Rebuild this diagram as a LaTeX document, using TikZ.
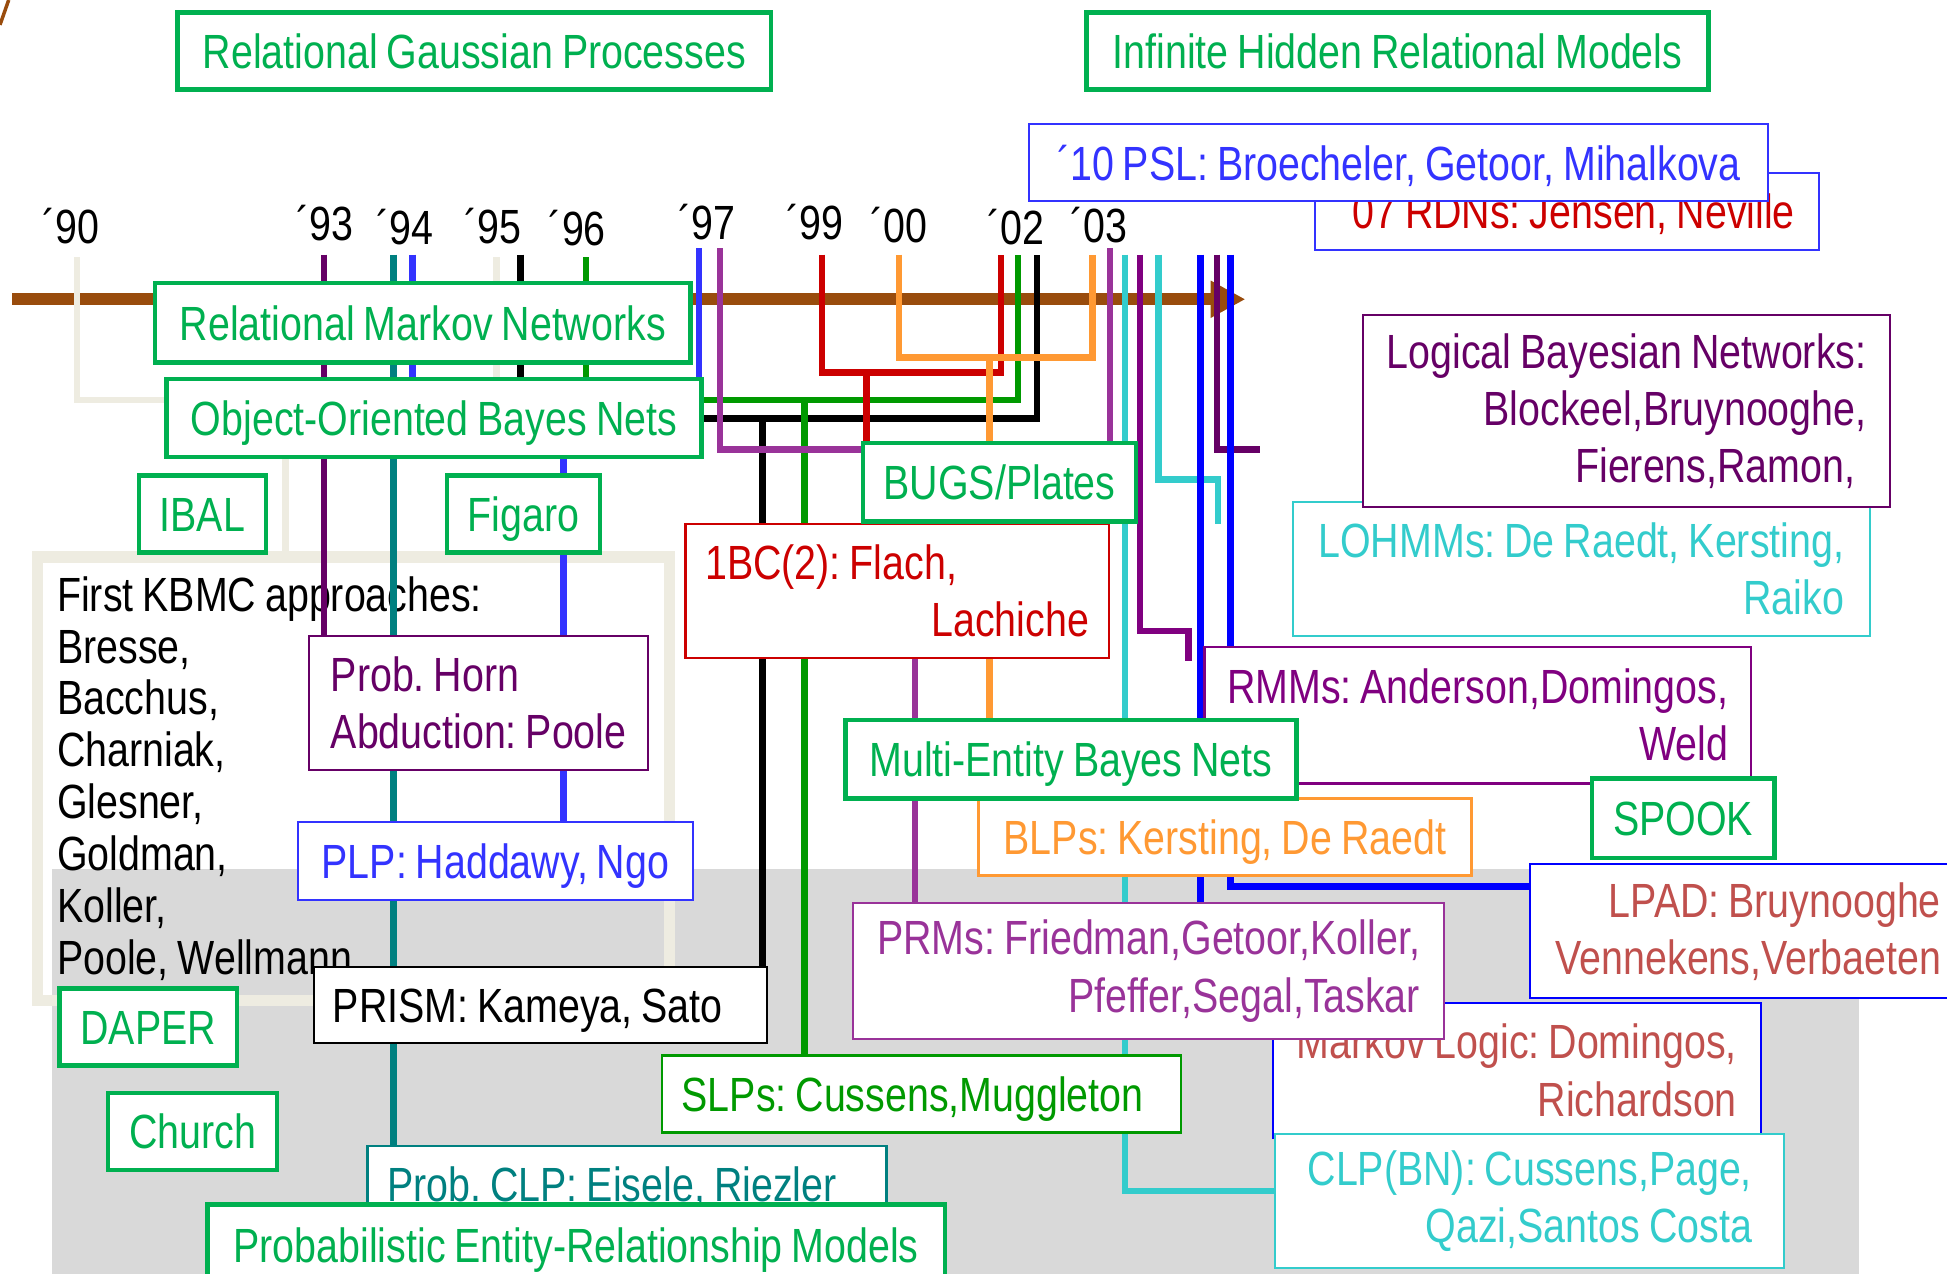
\documentclass[tikz,border=0pt]{standalone}
\usepackage{fontspec}
\setmainfont[FakeStretch=0.82,WordSpace=0.82]{Liberation Sans}
\usetikzlibrary{arrows.meta}
\pgfdeclarelayer{bg}
\pgfdeclarelayer{wires}
\pgfsetlayers{bg,wires,main}
\definecolor{grn}{RGB}{0,176,80}
\definecolor{sgrn}{RGB}{0,153,0}
\definecolor{dpur}{RGB}{102,0,102}
\definecolor{mpur}{RGB}{153,51,153}
\definecolor{vpur}{RGB}{128,0,128}
\definecolor{teal2}{RGB}{0,128,128}
\definecolor{lblu}{RGB}{51,51,255}
\definecolor{blu}{RGB}{0,0,255}
\definecolor{red2}{RGB}{204,0,0}
\definecolor{orn}{RGB}{255,153,51}
\definecolor{cyn}{RGB}{51,204,204}
\definecolor{brd}{RGB}{192,80,77}
\definecolor{beig}{RGB}{238,236,225}
\definecolor{brn}{RGB}{153,76,13}
\definecolor{gry}{RGB}{217,217,217}
\frenchspacing

\begin{document}
\begin{tikzpicture}[x=0.1mm,y=-0.1mm,line join=miter,
  every node/.style={font=\fontsize{11}{13.1}\selectfont,inner sep=0pt},
  one/.style={text height=2.9mm,text depth=0.1mm},
  gbox/.style={one,draw=grn,line width=1pt,fill=white,text=grn},
  tbox/.style={draw=#1,line width=0.5pt,fill=white,text=#1},
  wire/.style={line width=1.5pt}]
  \useasboundingbox (0,0) rectangle (1568,1026);
  % Zeitachse mit den Jahren und den Ansaetzen
  \begin{pgfonlayer}{bg}
    \fill[gry] (42,700) rectangle (1497,1026);
    \draw[brn,line width=0.8pt] (0,20) -- (7,0);
    \coordinate (tl0) at (10,241);
    \coordinate (tl1) at (1003,241);
    \draw[brn,line width=1mm,-{Triangle[length=2.8mm,width=2.8mm]}] (tl0) -- (tl1);
    \node[draw=beig,line width=0.9mm,minimum width=50.9mm,minimum height=35.7mm,
      text width=47.7mm,align=flush left,font=\fontsize{11}{11.9}\selectfont] (kbmc) at (284.5,627)
      {First KBMC approaches:\\Bresse,\\Bacchus,\\Charniak,\\Glesner,\\Goldman,\\Koller,\\Poole, Wellmann};
  \end{pgfonlayer}

  \node (y90) at (57,182) {´90};
  \node (y93) at (262,180) {´93};
  \node (y94) at (326,183) {´94};
  \node (y95) at (397,182) {´95};
  \node (y96) at (465,184) {´96};
  \node (y97) at (569,179) {´97};
  \node (y99) at (656,179) {´99};
  \node (y00) at (724,181) {´00};
  \node (y02) at (818,183) {´02};
  \node (y03) at (885,181) {´03};

  \node[gbox,minimum width=47.8mm,minimum height=6.2mm] (rgp) at (382,41) {Relational Gaussian Processes};
  \node[gbox,minimum width=50.1mm,minimum height=6.2mm] (ihrm) at (1125.5,41) {Infinite Hidden Relational Models};
  \node[one,tbox=lblu,text=red2,minimum width=40.6mm,minimum height=6.2mm] (rdn) at (1262,170) {´07 RDNs: Jensen, Neville};
  \node[one,tbox=lblu,minimum width=59.5mm,minimum height=6.2mm] (psl) at (1126.5,131) {´10 PSL: Broecheler, Getoor, Mihalkova};
  \node[gbox,minimum width=43.1mm,minimum height=6.4mm] (rmn) at (340.5,260) {Relational Markov Networks};
  \node[gbox,minimum width=43.1mm,minimum height=6.3mm] (oobn) at (349.5,336.5) {Object-Oriented Bayes Nets};
  \node[gbox,minimum width=10.2mm,minimum height=6.2mm] (ibal) at (163,414) {IBAL};
  \node[gbox,minimum width=12.3mm,minimum height=6.2mm] (figaro) at (421.5,414) {Figaro};
  \node[tbox=dpur,minimum width=27.3mm,minimum height=10.8mm,align=left] (horn) at (385.5,566) {Prob. Horn\\Abduction: Poole};
  \node[one,tbox=lblu,minimum width=31.8mm,minimum height=6.3mm] (plp) at (399,693.5) {PLP: Haddawy, Ngo};
  \node[one,tbox=black,minimum width=36.5mm,minimum height=6.1mm,text width=33.5mm,align=flush left] (prism) at (435.5,809.5) {PRISM: Kameya, Sato};
  \node[gbox,minimum width=14.3mm,minimum height=6.2mm] (daper) at (119.5,827) {DAPER};
  \node[gbox,minimum width=13.6mm,minimum height=6.2mm] (church) at (155,911) {Church};
  \node[one,tbox=teal2,minimum width=41.8mm,minimum height=6.2mm,text width=38.6mm,align=flush left] (probclp) at (505,954) {Prob. CLP: Eisele, Riezler};
  \node[gbox,minimum width=59.4mm,minimum height=6.5mm] (perm) at (464,1002.5) {Probabilistic Entity-Relationship Models};
  \node[tbox=red2,minimum width=34.1mm,minimum height=10.8mm,text width=30.9mm,align=flush left] (onebc) at (722.5,476) {1BC(2): Flach,\\\hfill Lachiche};
  \node[gbox,minimum width=22mm,minimum height=6.3mm] (bugs) at (805,388.5) {BUGS/Plates};
  \node[one,tbox=orn,minimum width=39.7mm,minimum height=6.2mm] (blps) at (986.5,674) {BLPs: Kersting, De Raedt};
  \node[tbox=vpur,minimum width=44mm,minimum height=11mm,align=right] (rmms) at (1190,576) {RMMs: Anderson,Domingos,\\Weld};
  \node[tbox=cyn,minimum width=46.5mm,minimum height=10.8mm,align=right] (lohmms) at (1273.5,458) {LOHMMs: De Raedt, Kersting,\\Raiko};
  \node[tbox=dpur,minimum width=42.4mm,minimum height=15.5mm,align=right] (lbn) at (1310,331) {Logical Bayesian Networks:\\Blockeel,Bruynooghe,\\Fierens,Ramon,\hspace*{0.9mm}};
  \node[gbox,minimum width=36.3mm,minimum height=6.3mm] (mebn) at (862.5,611.5) {Multi-Entity Bayes Nets};
  \node[gbox,minimum width=14.7mm,minimum height=6.4mm] (spook) at (1355.5,659) {SPOOK};
  \node[tbox=blu,text=brd,minimum width=39.3mm,minimum height=10.8mm,align=right] (ml) at (1221.5,862) {Markov Logic: Domingos,\\Richardson};
  \node[tbox=mpur,minimum width=47.6mm,minimum height=10.9mm,align=right] (prms) at (925,782) {PRMs: Friedman,Getoor,Koller,\\Pfeffer,Segal,Taskar};
  \node[tbox=cyn,minimum width=41mm,minimum height=10.8mm,align=right] (clpbn) at (1232,967) {CLP(BN): Cussens,Page,\\Qazi,Santos Costa};
  \node[one,tbox=sgrn,minimum width=41.8mm,minimum height=6.2mm,text width=38.6mm,align=flush left] (slps) at (742,881) {SLPs: Cussens,Muggleton};
  \node[tbox=blu,text=brd,minimum width=35.2mm,minimum height=10.8mm,align=right] (lpad) at (1408,750) {LPAD: Bruynooghe\\Vennekens,Verbaeten};

  \coordinate (t90) at (62,207);
  \coordinate (t93) at (261,205);
  \coordinate (t94a) at (317,205);
  \coordinate (t94b) at (332,205);
  \coordinate (t95a) at (400,207);
  \coordinate (t95b) at (419,205);
  \coordinate (t96) at (472,207);
  \coordinate (t97a) at (563,200);
  \coordinate (t97b) at (580,200);
  \coordinate (t99) at (662,205);
  \coordinate (t00) at (724,205);
  \coordinate (t02a) at (806,205);
  \coordinate (t02b) at (820,205);
  \coordinate (t02c) at (835,205);
  \coordinate (t03a) at (880,205);
  \coordinate (t03b) at (894,200);
  \coordinate (t03c) at (906,205);
  \coordinate (t03d) at (918,205);
  \coordinate (t03e) at (933,205);
  \coordinate (t03f) at (967,205);
  \coordinate (t03g) at (980,205);
  \coordinate (t03h) at (991,205);
  \coordinate (b94) at (454,330);
  \coordinate (b95) at (230,350);
  \coordinate (b95b) at (614,337);
  \coordinate (b96) at (648,322);
  \coordinate (b97) at (737,362);
  \coordinate (b99) at (698,300);
  \coordinate (b00) at (797,288);
  \coordinate (b03c) at (906,959);
  \coordinate (b03d) at (957,508);
  \coordinate (e03d) at (957,532);
  \coordinate (b03e) at (981,386);
  \coordinate (e03e) at (981,422);
  \coordinate (e03g) at (1015,362);
  \coordinate (b03h) at (991,714);

  \begin{pgfonlayer}{wires}
    \draw[wire,beig] (t90) |- ([yshift=1.45mm]oobn.west);
    \draw[wire,dpur] (t93) -- (t93 |- horn.north);
    \draw[wire,teal2] (t94a) -- (t94a |- probclp.north);
    \draw[wire,lblu] (t94b) |- (b94) -- (b94 |- plp.north);
    \draw[wire,beig] (t95a) |- (b95) -- (b95 |- kbmc.north);
    \draw[wire] (t95b) |- (b95b) -| (t02c);
    \draw[wire] (b95b) -- (b95b |- prism.north);
    \draw[wire,sgrn] (t96) |- (b96) -| (t02b);
    \draw[wire,sgrn] (b96) -- (b96 |- slps.north);
    \draw[wire,lblu] (t97a) -- (t97a |- oobn.north);
    \draw[wire,mpur] (t97b) |- (b97) -- (b97 |- prms.north);
    \draw[wire,red2] (t99) |- (b99) -| (t02a);
    \draw[wire,red2] (b99) -- (b99 |- onebc.north);
    \draw[wire,orn] (t00) |- (b00) -| (t03a);
    \draw[wire,orn] (b00) -- (b00 |- blps.north);
    \draw[wire,mpur] (t03b) -- (t03b |- bugs.north);
    \draw[wire,cyn] (t03c) -- (b03c) -- (b03c -| clpbn.west);
    \draw[wire,vpur] (t03d) |- (b03d) -- (e03d);
    \draw[wire,cyn] (t03e) |- (b03e) -- (e03e);
    \draw[wire,blu] (t03f) -- (t03f |- prms.north);
    \draw[wire,dpur] (t03g) |- (e03g);
    \draw[wire,blu] (t03h) -- (b03h) -- (b03h -| lpad.west);
  \end{pgfonlayer}
\end{tikzpicture}
\end{document}
